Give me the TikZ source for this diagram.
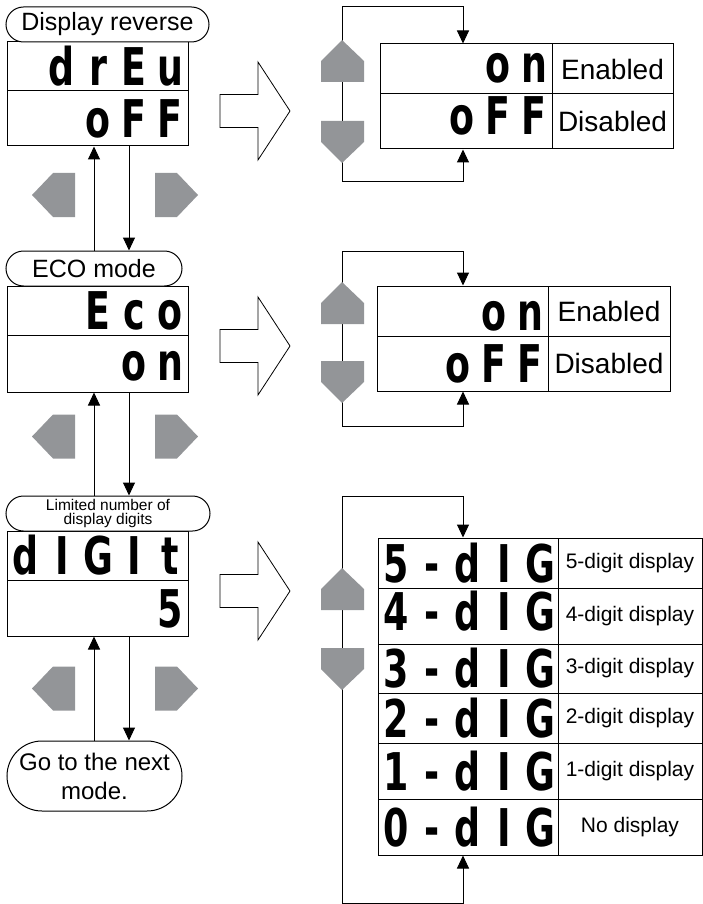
\documentclass[tikz,border=0pt]{standalone}
\usepackage{fontspec}
\setmainfont{Liberation Sans}
\newfontfamily\lcdfont{DejaVu Sans}[FakeStretch=0.7]
\usetikzlibrary{arrows.meta,shapes.misc}
\definecolor{keygray}{HTML}{939598}
% one display character per 36pt cell
\newcommand\lcdcell[1]{\makebox[36pt][c]{#1}}
\newcommand\lcd[1]{\lcdloop#1\relax}
\def\lcdloop#1{\ifx#1\relax\else\lcdcell{#1}\expandafter\lcdloop\fi}
\tikzset{
  pill/.style={draw,fill=white,rounded rectangle,line width=1pt,inner sep=0pt,
    align=center,font=\fontsize{25}{28}\selectfont},
  lcdrow/.style n args={3}{draw,line width=1pt,inner sep=0pt,minimum width=#1,text width=#1,
    minimum height=#2,text height=38pt,text depth=2*#3-#2+38pt,align=right,
    font=\lcdfont\bfseries\fontsize{52}{52}\selectfont},
  lblcell/.style 2 args={draw,line width=1pt,inner sep=0pt,minimum width=#1,
    minimum height=#2,font=\fontsize{28}{30}\selectfont},
  arr/.style={-{Triangle[length=13pt,width=12pt]},line width=1pt},
}
\begin{document}
\begin{tikzpicture}[x=1pt,y=-1pt,
    hollow/.style={draw,fill=white,line width=0.8pt},
    key/.style={fill=keygray}]
  \useasboundingbox (0,0) rectangle (702,904);

  % mode displays
  \node[lcdrow={181pt}{49pt}{3pt}] (revcode) at (97.5,66.5) {\lcd{drEu}};
  \node[lcdrow={181pt}{55pt}{3pt}] (revval) at (97.5,118.5) {\lcd{oFF}};
  \node[lcdrow={181pt}{49pt}{3pt}] (ecocode) at (97.5,310.5) {\lcd{Eco}};
  \node[lcdrow={181pt}{57pt}{12pt}] (ecoval) at (97.5,363.5) {\lcd{on}};
  \node[lcdrow={181pt}{49pt}{5pt}] (digcode) at (97.5,555.5) {\lcd{dIGIt}};
  \node[lcdrow={181pt}{56pt}{9pt}] (digval) at (97.5,608) {\lcd{5}};

  \node[pill,minimum width=203pt,minimum height=35pt] (lblrev) at (107.5,24.5) {Display reverse};
  \node[pill,minimum width=176pt,minimum height=35pt] (lbleco) at (94,268.5) {ECO mode};
  \node[pill,minimum width=204pt,minimum height=35pt,font=\fontsize{15.5}{14}\selectfont] (lbldig) at (108,513.5) {Limited number of\\display digits};
  \node[pill,minimum width=175pt,minimum height=70pt,font=\fontsize{24}{29}\selectfont] (lblnext) at (94.5,776) {Go to the next\\mode.};

  \coordinate (upx) at (94,0);
  \coordinate (dnx) at (129,0);
  \draw[arr] (upx |- lbleco.north) -- (upx |- revval.south);
  \draw[arr] (dnx |- revval.south) -- (dnx |- lbleco.north);
  \draw[arr] (upx |- lbldig.north) -- (upx |- ecoval.south);
  \draw[arr] (dnx |- ecoval.south) -- (dnx |- lbldig.north);
  \draw[arr] (upx |- lblnext.north) -- (upx |- digval.south);
  \draw[arr] (dnx |- digval.south) -- (dnx |- lblnext.north);

  % setting tables
  \node[lcdrow={172pt}{50pt}{11pt}] (revon) at (466,69) {\lcd{on}};
  \node[lcdrow={172pt}{55pt}{14pt}] (revoff) at (466,121.5) {\lcd{oFF}};
  \node[lblcell={121pt}{50pt}] (revonlbl) at (612.5,69) {Enabled};
  \node[lblcell={121pt}{55pt}] (revofflbl) at (612.5,121.5) {Disabled};

  \node[lcdrow={171pt}{50pt}{6pt}] (ecoon) at (462.5,311) {\lcd{on}};
  \node[lcdrow={171pt}{55pt}{9pt}] (ecooff) at (462.5,363.5) {\lcd{oFF}};
  \node[lblcell={122pt}{50pt}] (ecoonlbl) at (609,311) {Enabled};
  \node[lblcell={122pt}{55pt}] (ecoofflbl) at (609,363.5) {Disabled};

  \node[lcdrow={180pt}{50pt}{5pt}] (dig5) at (468,563) {\lcd{5-dIG}};
  \node[lcdrow={180pt}{56pt}{14pt}] (dig4) at (468,616) {\lcd{4-dIG}};
  \node[lcdrow={180pt}{49pt}{5pt}] (dig3) at (468,668.5) {\lcd{3-dIG}};
  \node[lcdrow={180pt}{50pt}{5pt}] (dig2) at (468,718) {\lcd{2-dIG}};
  \node[lcdrow={180pt}{56pt}{2pt}] (dig1) at (468,771) {\lcd{1-dIG}};
  \node[lcdrow={180pt}{56pt}{5pt}] (dig0) at (468,827) {\lcd{0-dIG}};
  \node[lblcell={144pt}{50pt},font=\fontsize{21}{24}\selectfont] (dig5lbl) at (630,563) {5-digit display};
  \node[lblcell={144pt}{56pt},font=\fontsize{21}{24}\selectfont] (dig4lbl) at (630,616) {4-digit display};
  \node[lblcell={144pt}{49pt},font=\fontsize{21}{24}\selectfont] (dig3lbl) at (630,668.5) {3-digit display};
  \node[lblcell={144pt}{50pt},font=\fontsize{21}{24}\selectfont] (dig2lbl) at (630,718) {2-digit display};
  \node[lblcell={144pt}{56pt},font=\fontsize{21}{24}\selectfont] (dig1lbl) at (630,771) {1-digit display};
  \node[lblcell={144pt}{56pt},font=\fontsize{21}{24}\selectfont] (dig0lbl) at (630,827) {No display};

  % up/down loops
  \coordinate (arrx) at (463,0);
  \coordinate (lt1) at (342,7);
  \coordinate (lb1) at (342,182);
  \coordinate (lt2) at (342,251);
  \coordinate (lb2) at (342,426);
  \coordinate (lt3) at (342,496);
  \coordinate (lb3) at (342,903);
  \draw[arr] (lb1) -- (lt1) -| (arrx |- revon.north);
  \draw[arr] (lb1) -| (arrx |- revoff.south);
  \draw[arr] (lb2) -- (lt2) -| (arrx |- ecoon.north);
  \draw[arr] (lb2) -| (arrx |- ecooff.south);
  \draw[arr] (lb3) -- (lt3) -| (arrx |- dig5.north);
  \draw[arr] (lb3) -| (arrx |- dig0.south);

  % keys and big arrows
  \foreach \c in {195,436.5,688.5}{
    \fill[key] (75,\c-22) -- (75,\c+22) -- (53,\c+22) -- (32,\c) -- (53,\c-22) -- cycle;
    \fill[key] (155,\c-22) -- (155,\c+22) -- (177,\c+22) -- (198,\c) -- (177,\c-22) -- cycle;
  }
  \foreach \t/\d in {40/121,282/361,568/648}{
    \fill[key] (342,\t) -- (364,\t+21) -- (364,\t+42) -- (321,\t+42) -- (321,\t+21) -- cycle;
    \fill[key] (321,\d) -- (364,\d) -- (364,\d+21) -- (342,\d+42) -- (321,\d+21) -- cycle;
  }
  \foreach \c in {111,346,591}
    \draw[hollow] (220,\c-16.5) -- (258,\c-16.5) -- (258,\c-49) -- (290,\c)
      -- (258,\c+49) -- (258,\c+16.5) -- (220,\c+16.5) -- cycle;
\end{tikzpicture}
\end{document}
